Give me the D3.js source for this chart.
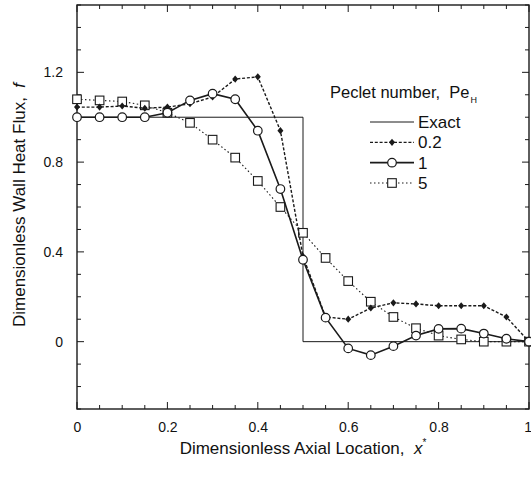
<!DOCTYPE html>
<html><head><meta charset="utf-8">
<script src="https://cdn.jsdelivr.net/npm/d3@7"></script>
<style>body{margin:0;background:#fff}svg{display:block}text,tspan{font-family:"Liberation Sans",Arial,sans-serif;fill:#111;white-space:pre}</style>
</head><body><svg id="c" width="531" height="478"></svg>
<script>
const xs = [0,0.05,0.1,0.15,0.2,0.25,0.3,0.35,0.4,0.45,0.5,0.55,0.6,0.65,0.7,0.75,0.8,0.85,0.9,0.95,1.0];
const pe02 = [1.045,1.045,1.05,1.04,1.045,1.06,1.09,1.17,1.18,0.94,0.38,0.11,0.10,0.15,0.173,0.168,0.16,0.16,0.16,0.11,0.0];
const pe1  = [1.0,1.0,1.0,1.0,1.02,1.075,1.105,1.08,0.94,0.68,0.365,0.107,-0.03,-0.06,-0.02,0.027,0.057,0.058,0.036,0.013,0.0];
const pe5  = [1.08,1.075,1.07,1.053,1.02,0.975,0.90,0.82,0.716,0.60,0.485,0.373,0.27,0.178,0.11,0.06,0.027,0.01,0.0,0.0,0.0];
const exactX = [0,0.5,0.5,1];
const exactY = [1,1,0,0];
const xTickLabels = ["0","0.2","0.4","0.6","0.8","1"];
const yTickLabels = ["0","0.4","0.8","1.2"];
const legendLabels = ["Exact","0.2","1","5"];

const svg = d3.select("#c");
const L=77,R=529,T=5,B=409;
const x = d3.scaleLinear().domain([0,1]).range([L,R]);
const y = d3.scaleLinear().domain([-0.3,1.5]).range([B,T]);
const ink="#1a1a1a";
const FF="Liberation Sans, Arial, sans-serif";

svg.append("rect").attr("x",L).attr("y",T).attr("width",R-L).attr("height",B-T)
  .attr("fill","none").attr("stroke",ink).attr("stroke-width",1.4);

const xMinor = d3.range(0,1.0001,0.05);
const yMinor = d3.range(-0.3,1.5001,0.1);
const isMajorX = v => Math.abs(v*5-Math.round(v*5))<1e-6;
const isMajorY = v => Math.abs(v*2.5-Math.round(v*2.5))<1e-6;
const tg = svg.append("g").attr("stroke",ink).attr("stroke-width",1);
xMinor.forEach(v=>{
  const len = isMajorX(v)?7:4;
  tg.append("line").attr("x1",x(v)).attr("x2",x(v)).attr("y1",B).attr("y2",B-len);
  tg.append("line").attr("x1",x(v)).attr("x2",x(v)).attr("y1",T).attr("y2",T+len);
});
yMinor.forEach(v=>{
  const len = isMajorY(v)?7:4;
  tg.append("line").attr("y1",y(v)).attr("y2",y(v)).attr("x1",L).attr("x2",L+len);
  tg.append("line").attr("y1",y(v)).attr("y2",y(v)).attr("x1",R).attr("x2",R-len);
});

const xAxis = d3.axisBottom(x).tickValues(xTickLabels.map(Number)).tickSize(0).tickPadding(0)
  .tickFormat((d,i)=>xTickLabels[i]);
const gx = svg.append("g").attr("transform",`translate(0,${B+13})`).call(xAxis);
gx.select(".domain").remove();
gx.selectAll("text").attr("font-size",14).attr("fill",ink).attr("font-family",FF);
gx.selectAll(".tick").filter(d=>d===1).select("text").attr("text-anchor","end").attr("dx",2.5);
const yAxis = d3.axisLeft(y).tickValues(yTickLabels.map(Number)).tickSize(0).tickPadding(0)
  .tickFormat((d,i)=>yTickLabels[i]);
const gy = svg.append("g").attr("transform",`translate(${L-14},0)`).call(yAxis);
gy.select(".domain").remove();
gy.selectAll("text").attr("font-size",14).attr("fill",ink).attr("font-family",FF);

const xt = svg.append("text").attr("x",303).attr("y",454).attr("text-anchor","middle").attr("font-size",17);
xt.append("tspan").text("Dimensionless Axial Location,\u00a0\u00a0");
xt.append("tspan").attr("font-style","italic").attr("font-family","Liberation Serif, serif").text("x");
xt.append("tspan").attr("font-size",10).attr("dy",-8).text("*");
const yt = svg.append("text").attr("transform",`translate(25,205) rotate(-90)`).attr("text-anchor","middle").attr("font-size",17);
yt.append("tspan").text("Dimensionless Wall Heat Flux,\u00a0\u00a0");
yt.append("tspan").attr("font-style","italic").attr("font-family","Liberation Serif, serif").text("f");

const plot = svg.append("g");
const line = d3.line().x(d=>x(d[0])).y(d=>y(d[1]));

plot.append("path").datum(exactX.map((v,i)=>[v,exactY[i]])).attr("d",line)
  .attr("fill","none").attr("stroke",ink).attr("stroke-width",1);

const series = [
  {vals:pe5, dash:"1.5,2.5", w:1.1, marker:"square"},
  {vals:pe02, dash:"3,1.8", w:1.4, marker:"diamond"},
  {vals:pe1, dash:null, w:1.6, marker:"circle"}
];
function drawMarker(g,type,cx,cy){
  if(type==="circle") g.append("circle").attr("cx",cx).attr("cy",cy).attr("r",4.3).attr("fill","#fff").attr("stroke",ink).attr("stroke-width",1.2);
  else if(type==="square") g.append("rect").attr("x",cx-4.3).attr("y",cy-4.3).attr("width",8.6).attr("height",8.6).attr("fill","#fff").attr("stroke",ink).attr("stroke-width",1.1);
  else g.append("path").attr("d",`M${cx},${cy-3.6}L${cx+3},${cy}L${cx},${cy+3.6}L${cx-3},${cy}Z`).attr("fill",ink);
}
series.forEach(s=>{
  const pts = xs.map((v,i)=>[v,s.vals[i]]);
  plot.append("path").datum(pts).attr("d",line).attr("fill","none").attr("stroke",ink)
    .attr("stroke-width",s.w).attr("stroke-dasharray",s.dash);
  const mg = plot.append("g");
  pts.forEach(p=>drawMarker(mg,s.marker,x(p[0]),y(p[1])));
});

const lt = svg.append("text").attr("x",330).attr("y",98).attr("font-size",16.5);
lt.append("tspan").text("Peclet number,\u00a0\u00a0Pe");
lt.append("tspan").attr("font-size",9).attr("dy",5).attr("dx",1).attr("fill",ink).text("H");
const leg = [
  {dash:null,w:1,marker:null},
  {dash:"3,1.8",w:1.4,marker:"diamond"},
  {dash:null,w:1.6,marker:"circle"},
  {dash:"1.5,2.5",w:1.1,marker:"square"}
];
const rowY = d3.scalePoint().domain(legendLabels).range([122,183]);
legendLabels.forEach((lab,i)=>{
  const yy=rowY(lab);
  svg.append("line").attr("x1",370).attr("x2",414).attr("y1",yy).attr("y2",yy).attr("stroke",ink)
    .attr("stroke-width",leg[i].w).attr("stroke-dasharray",leg[i].dash);
  if(leg[i].marker) drawMarker(svg,leg[i].marker,392,yy);
  svg.append("text").attr("x",418).attr("y",yy+6).attr("font-size",17).text(lab);
});
</script></body></html>
